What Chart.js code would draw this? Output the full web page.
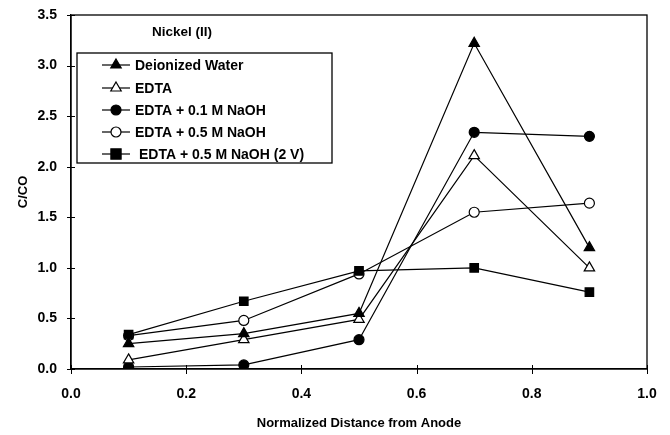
<!DOCTYPE html>
<html><head><meta charset="utf-8">
<script src="https://cdn.jsdelivr.net/npm/chart.js@4"></script>
<style>html,body{margin:0;padding:0;background:#fff}#wrap{width:670px;height:435px}</style>
</head><body><div id="wrap"><canvas id="c" width="670" height="435"></canvas></div>
<script>
const xValues = [0.1, 0.3, 0.5, 0.7, 0.9];
const deionizedWater = [0.25, 0.35, 0.55, 3.22, 1.20];
const edta = [0.09, 0.29, 0.49, 2.11, 1.00];
const edta01NaOH = [0.02, 0.04, 0.29, 2.34, 2.30];
const edta05NaOH = [0.33, 0.48, 0.94, 1.55, 1.64];
const edta05NaOH2V = [0.34, 0.67, 0.97, 1.00, 0.76];
const seriesLabels = ['Deionized Water', 'EDTA', 'EDTA + 0.1 M NaOH', 'EDTA + 0.5 M NaOH', 'EDTA + 0.5 M NaOH (2 V)'];
const xTicks = [0, 0.2, 0.4, 0.6, 0.8, 1.0];
const yTicks = [0, 0.5, 1.0, 1.5, 2.0, 2.5, 3.0, 3.5];
const chartTitle = 'Nickel (II)';
const xTitle = 'Normalized Distance from Anode';
const yTitle = 'C/CO';

const FONT = '"Liberation Sans", Arial, sans-serif';
const styles = [
  {ps:'triangle', r:6, bg:'#000'},
  {ps:'triangle', r:6, bg:'#fff'},
  {ps:'circle', r:5, bg:'#000'},
  {ps:'circle', r:5, bg:'#fff'},
  {ps:'rect', r:6, bg:'#000'}
];
const drawOrder = [0, 0, 0, 0, -1];
const allData = [deionizedWater, edta, edta01NaOH, edta05NaOH, edta05NaOH2V];
const datasets = allData.map((d, i) => ({
  label: seriesLabels[i],
  data: xValues.map((x, j) => ({x: x, y: d[j]})),
  order: drawOrder[i],
  borderColor: '#000', borderWidth: 1.2,
  pointStyle: styles[i].ps, pointRadius: styles[i].r,
  pointBackgroundColor: styles[i].bg, pointBorderColor: '#000', pointBorderWidth: 1.2,
  tension: 0, fill: false
}));

function drawMarker(ctx, style, x, y) {
  ctx.save();
  ctx.fillStyle = style.bg; ctx.strokeStyle = '#000'; ctx.lineWidth = 1.2;
  ctx.beginPath();
  const r = style.r;
  if (style.ps === 'circle') { ctx.arc(x, y, r, 0, Math.PI * 2); }
  else if (style.ps === 'triangle') {
    ctx.moveTo(x, y - r); ctx.lineTo(x + r * 0.87, y + r * 0.5); ctx.lineTo(x - r * 0.87, y + r * 0.5); ctx.closePath();
  } else { const s = r * 0.85; ctx.rect(x - s, y - s, 2 * s, 2 * s); }
  ctx.fill(); ctx.stroke();
  ctx.restore();
}

const overlay = {
  id: 'overlay',
  afterDraw(chart) {
    const ctx = chart.ctx, a = chart.chartArea;
    const xs = chart.scales.x, ys = chart.scales.y;
    ctx.save();
    ctx.strokeStyle = '#000'; ctx.lineWidth = 1.3;
    ctx.strokeRect(a.left, a.top, a.right - a.left, a.bottom - a.top);
    ctx.lineWidth = 1;
    ctx.beginPath();
    xTicks.forEach(v => { const px = Math.round(xs.getPixelForValue(v)) + 0.5; ctx.moveTo(px, a.bottom - 4); ctx.lineTo(px, a.bottom + 5); });
    yTicks.forEach(v => { const py = Math.round(ys.getPixelForValue(v)) + 0.5; ctx.moveTo(a.left - 4, py); ctx.lineTo(a.left + 4, py); });
    ctx.stroke();
    ctx.fillStyle = '#000';
    ctx.font = 'bold 13.5px ' + FONT;
    ctx.textBaseline = 'middle'; ctx.textAlign = 'left';
    ctx.fillText(chartTitle, 152, 32);
    ctx.lineWidth = 1.3;
    ctx.fillStyle = '#fff';
    ctx.fillRect(77, 53, 255, 110);
    ctx.strokeRect(77, 53, 255, 110);
    ctx.font = 'bold 14px ' + FONT;
    const ly = [65, 88, 110, 132, 154];
    seriesLabels.forEach((lab, i) => {
      const y = ly[i];
      ctx.strokeStyle = '#000'; ctx.lineWidth = 1.2;
      ctx.beginPath(); ctx.moveTo(102, y); ctx.lineTo(130, y); ctx.stroke();
      drawMarker(ctx, styles[i], 116, y);
      ctx.fillStyle = '#000';
      ctx.fillText(lab, i === 4 ? 139 : 135, y + 1);
    });
    ctx.restore();
  }
};

new Chart(document.getElementById('c'), {
  type: 'line',
  data: { datasets },
  options: {
    responsive: false, animation: false,
    layout: { padding: { top: 15, right: 23, left: 12, bottom: 0 } },
    plugins: { legend: { display: false }, tooltip: { enabled: false } },
    scales: {
      x: {
        type: 'linear', min: 0, max: 1,
        afterBuildTicks: s => { s.ticks = xTicks.map(v => ({value: v})); },
        afterFit: s => { s.height = 66; s.paddingLeft = 0; s.paddingRight = 0; },
        grid: { display: false, drawTicks: false },
        border: { display: true, color: '#000', width: 1.3 },
        ticks: { color: '#000', font: { family: FONT, size: 14, weight: 'bold' }, padding: 17,
                 callback: v => v.toFixed(1), maxRotation: 0 },
        title: { display: true, text: xTitle, color: '#000', font: { family: FONT, size: 13, weight: 'bold' }, padding: { top: 12 } }
      },
      y: {
        type: 'linear', min: 0, max: 3.5,
        afterBuildTicks: s => { s.ticks = yTicks.map(v => ({value: v})); },
        afterFit: s => { s.width = 59; s.paddingTop = 0; s.paddingBottom = 0; },
        grid: { display: false, drawTicks: false },
        border: { display: true, color: '#000', width: 1.3 },
        ticks: { color: '#000', font: { family: FONT, size: 14, weight: 'bold' }, padding: 14,
                 callback: v => v.toFixed(1) },
        title: { display: true, text: yTitle, color: '#000', font: { family: FONT, size: 13, weight: 'bold' }, padding: { bottom: 2 } }
      }
    }
  },
  plugins: [overlay]
});
</script></body></html>
